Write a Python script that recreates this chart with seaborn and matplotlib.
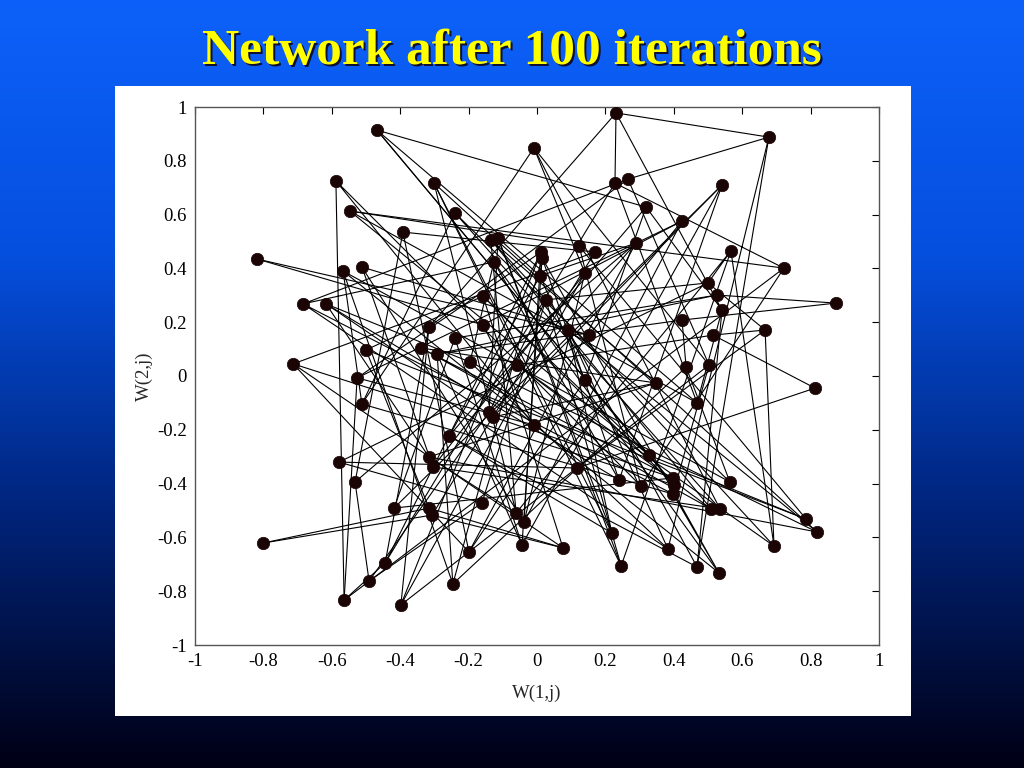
import numpy as np
import pandas as pd
import matplotlib
matplotlib.use("Agg")
import matplotlib.pyplot as plt
from matplotlib.colors import LinearSegmentedColormap
import seaborn as sns

# ---- data: neuron weights (W(1,j), W(2,j)) ----
w1 = [0.231, 0.678, -0.468, -0.009, -0.588, -0.301, 0.228, 0.266, 0.541, -0.547,
      -0.240, 0.319, 0.424, -0.392, -0.135, -0.114, 0.012, 0.015, 0.123, 0.170,
      0.289, 0.567, -0.819, -0.567, -0.512, -0.126, 0.722, 0.009, 0.140, 0.500,
      -0.684, -0.617, -0.158, 0.026, 0.526, 0.541, 0.874, -0.316, -0.158, 0.424,
      0.667, 0.091, -0.240, 0.152, 0.515, -0.339, -0.500, -0.292, -0.196, -0.713,
      -0.058, 0.503, 0.436, -0.526, 0.140, 0.348, 0.813, -0.512, 0.468, -0.140,
      -0.129, -0.009, -0.257, 0.327, -0.316, -0.304, -0.579, 0.117, -0.532, 0.240,
      0.304, 0.398, 0.401, 0.398, 0.564, -0.418, -0.316, -0.307, -0.161, -0.061,
      -0.038, 0.509, 0.535, 0.787, 0.819, -0.801, -0.044, 0.076, 0.219, 0.383,
      0.693, -0.199, -0.444, 0.246, 0.468, 0.532, -0.491, -0.246, -0.564, -0.398]
w2 = [0.978, 0.888, 0.914, 0.848, 0.725, 0.717, 0.717, 0.732, 0.710, 0.613,
      0.606, 0.628, 0.576, 0.535, 0.506, 0.513, 0.461, 0.439, 0.483, 0.461,
      0.494, 0.465, 0.435, 0.390, 0.405, 0.424, 0.401, 0.372, 0.383, 0.346,
      0.268, 0.268, 0.297, 0.283, 0.301, 0.245, 0.271, 0.182, 0.190, 0.208,
      0.171, 0.171, 0.141, 0.152, 0.152, 0.104, 0.097, 0.082, 0.052, 0.045,
      0.041, 0.041, 0.033, -0.007, -0.015, -0.026, -0.045, -0.104, -0.100, -0.134,
      -0.152, -0.182, -0.223, -0.294, -0.301, -0.338, -0.320, -0.342, -0.394, -0.387,
      -0.409, -0.379, -0.405, -0.439, -0.394, -0.491, -0.491, -0.517, -0.472, -0.509,
      -0.543, -0.494, -0.494, -0.532, -0.580, -0.621, -0.628, -0.639, -0.584, -0.643,
      -0.632, -0.654, -0.695, -0.706, -0.710, -0.732, -0.762, -0.773, -0.833, -0.851]

# 10x10 neighbourhood lattice (neuron ids, 1-based)
grid = [
    [23, 39, 62, 5, 71, 19, 84, 47, 77, 86],
    [44, 13, 54, 99, 27, 10, 64, 33, 88, 78],
    [25, 81, 17, 93, 7, 59, 3, 73, 50, 20],
    [66, 29, 100, 38, 1, 36, 12, 55, 92, 14],
    [83, 4, 52, 8, 2, 95, 63, 28, 21, 69],
    [11, 58, 74, 31, 90, 42, 89, 16, 60, 97],
    [75, 24, 96, 26, 49, 85, 6, 94, 34, 79],
    [53, 98, 18, 70, 32, 65, 80, 22, 30, 67],
    [40, 48, 87, 9, 61, 56, 15, 91, 41, 68],
    [37, 35, 43, 76, 72, 46, 82, 51, 45, 57],
]

tick_vals = [-1, -0.8, -0.6, -0.4, -0.2, 0, 0.2, 0.4, 0.6, 0.8, 1]
tick_labels = ["-1", "-0.8", "-0.6", "-0.4", "-0.2", "0", "0.2", "0.4", "0.6", "0.8", "1"]

# ---- build line table ----
x = np.array(w1)
y = np.array(w2)
g = np.array(grid) - 1
rows = []
for r in range(10):
    for k in range(10):
        rows.append({"x": x[g[r, k]], "y": y[g[r, k]], "unit": f"r{r}", "o": k})
for c in range(10):
    for k in range(10):
        rows.append({"x": x[g[k, c]], "y": y[g[k, c]], "unit": f"c{c}", "o": k})
lines = pd.DataFrame(rows)
pts = pd.DataFrame({"x": x, "y": y})

sns.set_theme(style="white")
plt.rcParams["font.family"] = ["Liberation Serif", "DejaVu Serif"]

fig = plt.figure(figsize=(10.24, 7.68), dpi=100)

# background gradient
bg = fig.add_axes([0, 0, 1, 1])
bg.axis("off")
cmap = LinearSegmentedColormap.from_list(
    "bg", [(0.0, 0.0, 0.08), (0.0, 0.14, 0.48), (0.02, 0.31, 0.87), (0.05, 0.38, 0.98)])
grad = np.linspace(0, 1, 512)[:, None]
bg.imshow(grad, aspect="auto", cmap=cmap, extent=[0, 1, 0, 1], origin="lower")
bg.set_xlim(0, 1)
bg.set_ylim(0, 1)

# white panel
panel = fig.add_axes([115 / 1024, 1 - 716 / 768, 796 / 1024, 630 / 768])
panel.set_facecolor("white")
panel.set_xticks([])
panel.set_yticks([])
for s in panel.spines.values():
    s.set_visible(False)

# title with shadow
title = "Network after 100 iterations"
fig.text(0.5 + 2 / 1024, 1 - 54 / 768, title, color="#101030", fontsize=37,
         fontweight="bold", ha="center", va="center")
fig.text(0.5, 1 - 52 / 768, title, color="#FFFF00", fontsize=37,
         fontweight="bold", ha="center", va="center")

ax = fig.add_axes([195 / 1024, 1 - 645 / 768, 684 / 1024, 538 / 768])
ax.set_facecolor("white")
sns.lineplot(data=lines, x="x", y="y", units="unit", estimator=None, sort=False,
             color="black", linewidth=0.8, ax=ax, legend=False)
sns.scatterplot(data=pts, x="x", y="y", s=80, color="#1a0404", edgecolor="#1a0404",
                linewidth=0.5, ax=ax, zorder=3, legend=False)

ax.set_xlim(-1, 1)
ax.set_ylim(-1, 1)
ax.set_xticks(tick_vals)
ax.set_xticklabels(tick_labels)
ax.set_yticks(tick_vals)
ax.set_yticklabels(tick_labels)
ax.tick_params(direction="in", top=True, right=True, length=5, width=0.8,
               labelsize=13.5, pad=6, colors="black")
for s in ax.spines.values():
    s.set_color("#555555")
    s.set_linewidth(1.0)
ax.set_xlabel("W(1,j)", fontsize=13.5, labelpad=10)
ax.set_ylabel("W(2,j)", fontsize=13.5, labelpad=3)

fig.savefig("out.png", dpi=100)
